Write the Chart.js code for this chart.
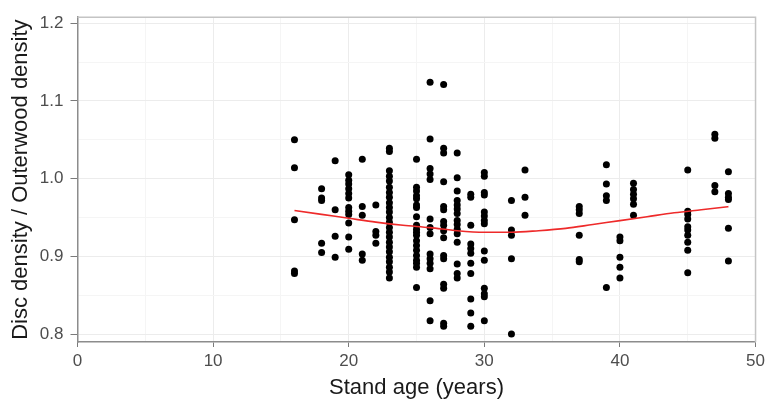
<!DOCTYPE html>
<html>
<head>
<meta charset="utf-8">
<script src="https://cdn.jsdelivr.net/npm/chart.js@4"></script>
<style>
    html, body { margin: 0; padding: 0; background: #fff; }
    canvas { display: block; }
</style>
</head>
<body>
<canvas id="grafico" width="769" height="401"></canvas>
<script>
// stand age of each sampled group (years)
const ages = [16, 18, 19, 20, 21, 22, 23, 25, 26, 27, 28, 29, 30, 32, 33, 37, 39, 40, 41, 45, 47, 48]

// disc density / outerwood density for each age group
const ratios = [
    [1.050, 1.014, 0.947, 0.881, 0.878],
    [0.987, 0.975, 0.972, 0.917, 0.905],
    [1.023, 0.960, 0.926, 0.899],
    [1.005, 0.998, 0.993, 0.987, 0.981, 0.975, 0.963, 0.958, 0.954, 0.943, 0.925, 0.909],
    [1.025, 0.964, 0.953, 0.903, 0.895],
    [0.966, 0.932, 0.927, 0.917],
    [1.039, 1.035, 1.010, 1.003, 0.997, 0.989, 0.982, 0.976, 0.969, 0.963, 0.957, 0.950,
     0.944, 0.937, 0.931, 0.925, 0.918, 0.912, 0.906, 0.899, 0.893, 0.886, 0.880, 0.872],
    [1.025, 0.989, 0.984, 0.978, 0.974, 0.966, 0.963, 0.951, 0.940, 0.935, 0.931, 0.927,
     0.920, 0.914, 0.908, 0.901, 0.895, 0.891, 0.886, 0.860],
    [1.124, 1.051, 1.013, 1.006, 0.999, 0.948, 0.937, 0.929, 0.903, 0.897, 0.891, 0.884, 0.843, 0.817],
    [1.121, 1.039, 1.033, 0.996, 0.964, 0.960, 0.945, 0.940, 0.933, 0.924, 0.901, 0.897,
     0.864, 0.859, 0.814, 0.810],
    [1.033, 1.001, 0.984, 0.972, 0.966, 0.961, 0.955, 0.946, 0.941, 0.935, 0.929, 0.918, 0.890, 0.878, 0.872],
    [0.980, 0.976, 0.940, 0.916, 0.910, 0.904, 0.891, 0.878, 0.845, 0.827, 0.810],
    [1.008, 1.003, 0.982, 0.979, 0.957, 0.952, 0.946, 0.942, 0.907, 0.895, 0.859, 0.852, 0.848, 0.817],
    [0.972, 0.934, 0.927, 0.897, 0.800],
    [1.011, 0.976, 0.953],
    [0.964, 0.960, 0.955, 0.927, 0.896, 0.893],
    [1.018, 0.993, 0.978, 0.972, 0.860],
    [0.925, 0.920, 0.899, 0.886, 0.872],
    [0.994, 0.986, 0.980, 0.974, 0.967, 0.953],
    [1.011, 0.958, 0.954, 0.948, 0.938, 0.934, 0.927, 0.918, 0.908, 0.879],
    [1.057, 1.052, 0.991, 0.983],
    [1.009, 0.981, 0.976, 0.973, 0.936, 0.894]
]

// smoothed trend
const smoothAge = [16, 18, 20, 22, 24, 26, 28, 30, 32, 34, 36, 38, 40, 42, 44, 46, 48]
const smoothRatio = [0.959, 0.954, 0.949, 0.944, 0.940, 0.937, 0.933, 0.931, 0.931, 0.933,
                     0.936, 0.941, 0.946, 0.951, 0.956, 0.960, 0.964]

// axis ticks (minor ones get a grid line only)
const xMajor = [0, 10, 20, 30, 40, 50]
const xMinor = [5, 15, 25, 35, 45]
const yMajor = [0.8, 0.9, 1.0, 1.1, 1.2]
const yMinor = [0.85, 0.95, 1.05, 1.15]

const points = []
ages.forEach((age, i) => {
    ratios[i].forEach(r => points.push({ x: age, y: r }))
})
const trend = smoothAge.map((a, i) => ({ x: a, y: smoothRatio[i] }))

const isMajor = (list, v) => list.some(m => Math.abs(m - v) < 1e-6)

const panelBorder = {
    id: 'panelBorder',
    afterDatasetsDraw(chart) {
        const { ctx, chartArea: a } = chart
        ctx.save()
        ctx.strokeStyle = '#c4c4c4'
        ctx.lineWidth = 1.5
        ctx.beginPath()
        ctx.moveTo(a.left, a.top)
        ctx.lineTo(a.right, a.top)
        ctx.lineTo(a.right, a.bottom)
        ctx.stroke()
        ctx.restore()
    }
}

const tickFont = { family: 'Liberation Sans, Arial, sans-serif', size: 17 }
const titleFont = { family: 'Liberation Sans, Arial, sans-serif', size: 22 }

new Chart(document.getElementById('grafico'), {
    type: 'scatter',
    data: {
        datasets: [
            {
                type: 'line',
                data: trend,
                borderColor: '#ee2a2a',
                borderWidth: 1.6,
                pointRadius: 0,
                tension: 0.4,
                cubicInterpolationMode: 'monotone',
                fill: false,
                order: 0
            },
            {
                data: points,
                backgroundColor: '#000',
                borderColor: '#000',
                borderWidth: 0,
                pointRadius: 3.5,
                order: 1
            }
        ]
    },
    options: {
        responsive: false,
        animation: false,
        layout: { padding: { top: 15, right: 10.5, left: 0, bottom: 0 } },
        plugins: {
            legend: { display: false },
            tooltip: { enabled: false }
        },
        scales: {
            x: {
                type: 'linear',
                min: 0,
                max: 50,
                afterBuildTicks: axis => {
                    axis.ticks = xMajor.concat(xMinor).sort((a, b) => a - b).map(v => ({ value: v }))
                },
                afterFit: axis => { axis.height = 59 },
                ticks: {
                    color: '#4d4d4d',
                    font: tickFont,
                    padding: 4,
                    maxRotation: 0,
                    autoSkip: false,
                    callback: v => isMajor(xMajor, v) ? String(v) : ''
                },
                grid: {
                    color: c => isMajor(xMajor, c.tick.value) ? '#ececec' : '#f5f5f5',
                    tickColor: c => isMajor(xMajor, c.tick.value) ? '#7a7a7a' : 'transparent',
                    tickLength: 5
                },
                border: { color: '#8c8c8c', width: 1.5 },
                title: {
                    display: true,
                    text: 'Stand age (years)',
                    color: '#1a1a1a',
                    font: titleFont,
                    padding: { top: 0, bottom: 0 }
                }
            },
            y: {
                type: 'linear',
                min: 0.7898,
                max: 1.2077,
                afterBuildTicks: axis => {
                    axis.ticks = yMajor.concat(yMinor).sort((a, b) => a - b).map(v => ({ value: v }))
                },
                afterFit: axis => { axis.width = 77.5 },
                ticks: {
                    color: '#4d4d4d',
                    font: tickFont,
                    padding: 7,
                    autoSkip: false,
                    callback: v => isMajor(yMajor, v) ? v.toFixed(1) : ''
                },
                grid: {
                    color: c => isMajor(yMajor, c.tick.value) ? '#ececec' : '#f5f5f5',
                    tickColor: c => isMajor(yMajor, c.tick.value) ? '#7a7a7a' : 'transparent',
                    tickLength: 7
                },
                border: { color: '#8c8c8c', width: 1.5 },
                title: {
                    display: true,
                    text: 'Disc density / Outerwood density',
                    color: '#1a1a1a',
                    font: titleFont,
                    padding: { top: 8, bottom: 0 }
                }
            }
        }
    },
    plugins: [panelBorder]
})
</script>
</body>
</html>
